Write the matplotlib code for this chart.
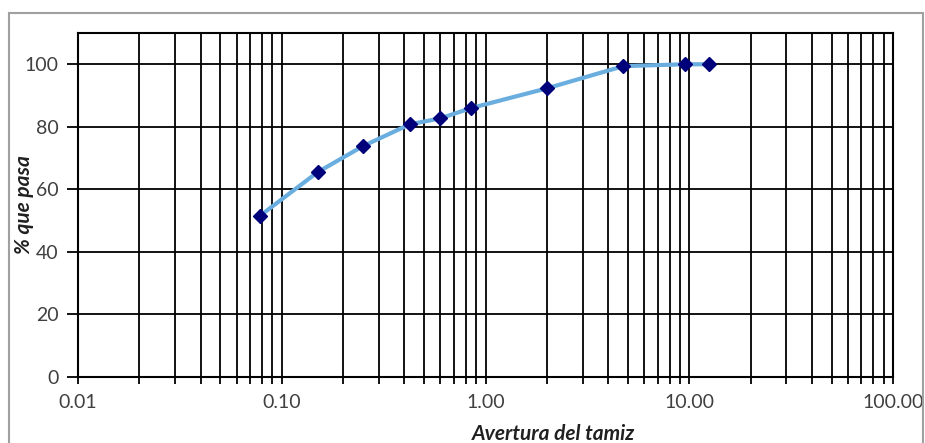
import matplotlib
matplotlib.use('Agg')
from matplotlib import pyplot as plt
from matplotlib.patches import Rectangle
from matplotlib.ticker import FixedLocator, FuncFormatter, LogLocator, NullFormatter

# sieve openings (mm) and percent passing
abertura = [0.078, 0.15, 0.25, 0.425, 0.6, 0.85, 2.0, 4.75, 9.5, 12.5]
pasa = [51.5, 65.5, 73.8, 80.8, 82.7, 86.0, 92.3, 99.4, 100.0, 100.0]

x_ticks = [0.01, 0.1, 1, 10, 100]
y_ticks = [0, 20, 40, 60, 80, 100]

plt.rcParams['font.family'] = ['Lato', 'DejaVu Sans']

fig = plt.figure(figsize=(9.25, 4.43), dpi=100)
fig.patches.append(Rectangle((9 / 925, -0.1), (923 - 9) / 925, 1.1 - 13 / 443,
                             transform=fig.transFigure, fill=False,
                             edgecolor='#a0a0a0', linewidth=1.5))

ax = fig.add_axes([78 / 925, 1 - 377 / 443, (893 - 78) / 925, (377 - 33) / 443])

ax.plot(abertura, pasa, color='#6aaee0', linewidth=3, zorder=3)
ax.plot(abertura, pasa, linestyle='none', marker='D', markersize=7,
        color='#00007a', zorder=4)

ax.set_xscale('log')
ax.set_xlim(0.01, 100)
ax.set_ylim(0, 110)

ax.xaxis.set_major_locator(FixedLocator(x_ticks))
ax.xaxis.set_minor_locator(LogLocator(base=10, subs=range(2, 10)))
ax.xaxis.set_major_formatter(FuncFormatter(lambda v, p: '%.2f' % v))
ax.xaxis.set_minor_formatter(NullFormatter())
ax.set_yticks(y_ticks)

ax.grid(True, which='both', axis='x', color='black', linewidth=1.3)
ax.grid(True, which='major', axis='y', color='black', linewidth=1.3)
ax.set_axisbelow(True)

for s in ax.spines.values():
    s.set_linewidth(1.5)
    s.set_color('black')

ax.tick_params(axis='x', which='major', length=5, width=1.3, labelsize=14,
               labelcolor='#404040', pad=7)
ax.tick_params(axis='x', which='minor', length=5, width=1.3)
ax.tick_params(axis='y', length=8, width=1.3, labelsize=14,
               labelcolor='#404040', pad=6)

fig.text(553 / 925, 3 / 443, 'Avertura del tamiz', ha='center', va='baseline',
         fontsize=15, fontweight='bold', fontstyle='italic', color='#202020')
fig.text(24 / 925, 1 - 205 / 443, '% que pasa', ha='center', va='center',
         rotation=90, fontsize=15, fontweight='bold', fontstyle='italic',
         color='#202020')

plt.savefig('out.png', dpi=100)
